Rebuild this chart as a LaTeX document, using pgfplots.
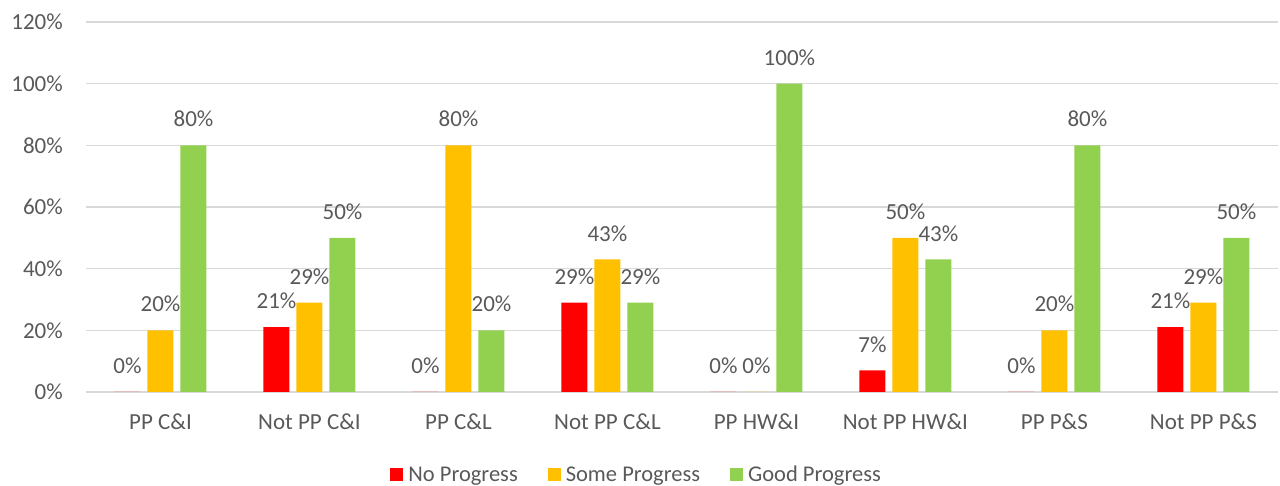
\documentclass[border=0pt]{standalone}
\usepackage{fontspec}
\setmainfont{Carlito}
\usepackage{pgfplots}
\usepackage{pgfplotstable}
\pgfplotsset{compat=1.18}

\definecolor{noprog}{HTML}{FF0000}
\definecolor{someprog}{HTML}{FFC000}
\definecolor{goodprog}{HTML}{92D050}
\definecolor{txt}{HTML}{595959}
\definecolor{gridgray}{HTML}{D9D9D9}

% x: 0 = PP C&I ... 7 = Not PP P&S
\pgfplotstableread{
x no some good
0 0  20 80
1 21 29 50
2 0  80 20
3 29 43 29
4 0  0  100
5 7  50 43
6 0  20 80
7 21 29 50
}\progress

\newcommand{\lblfont}{\fontsize{23}{28}\selectfont}

\begin{document}
\begin{tikzpicture}
\path[use as bounding box] (-86pt,-94pt) rectangle (1194pt,392pt);
\begin{axis}[
    at={(0pt,0pt)}, anchor=south west,
    width=1192pt, height=370pt, scale only axis,
    ybar=7pt, bar width=26pt,
    xmin=-0.5, xmax=7.5,
    ymin=0, ymax=120,
    xtick={0,...,7},
    xticklabels={PP C\&I, Not PP C\&I, PP C\&L, Not PP C\&L, PP HW\&I, Not PP HW\&I, PP P\&S, Not PP P\&S},
    ytick={0,20,...,120},
    yticklabel={\pgfmathprintnumber{\tick}\%},
    /pgf/number format/assume math mode=true,
    axis line style={draw=none},
    major tick length=0pt,
    ymajorgrids, grid style={draw=gridgray, line width=1.3pt},
    ticklabel style={font=\lblfont, text=txt, inner sep=0pt},
    xticklabel shift=22pt,
    yticklabel shift=23pt,
    nodes near coords={\pgfmathprintnumber{\pgfplotspointmeta}\%},
    every node near coord/.append style={font=\lblfont, text=txt, inner sep=0pt, yshift=18pt},
    legend columns=-1,
    legend style={at={(0.462,-0.224)}, anchor=center, draw=none, fill=none,
        font=\fontsize{22.5}{26}\selectfont, text=txt,
        /tikz/every odd column/.append style={column sep=3pt},
        /tikz/every even column/.append style={column sep=28pt}},
]
\addplot[fill=noprog, draw=none,
    legend image code/.code={\fill[noprog] (0pt,-6.5pt) rectangle (13pt,6.5pt);}]
    table[x=x, y=no] {\progress};
\addlegendentry{No Progress}
\addplot[fill=someprog, draw=none,
    legend image code/.code={\fill[someprog] (0pt,-6.5pt) rectangle (13pt,6.5pt);}]
    table[x=x, y=some] {\progress};
\addlegendentry{Some Progress}
\addplot[fill=goodprog, draw=none,
    legend image code/.code={\fill[goodprog] (0pt,-6.5pt) rectangle (13pt,6.5pt);}]
    table[x=x, y=good] {\progress};
\addlegendentry{Good Progress}
\end{axis}
\end{tikzpicture}
\end{document}
